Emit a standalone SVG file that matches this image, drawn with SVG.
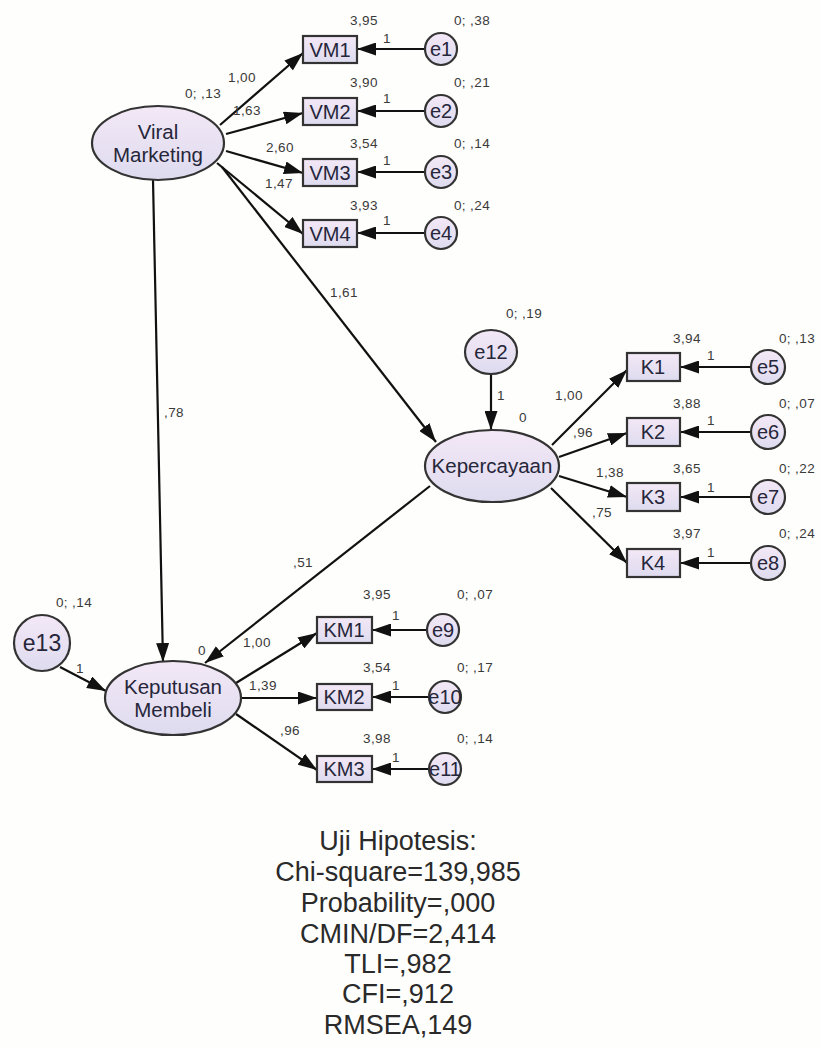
<svg xmlns="http://www.w3.org/2000/svg" width="820" height="1048" viewBox="0 0 820 1048">
<defs>
<linearGradient id="gFill" x1="0" y1="0" x2="0" y2="1">
<stop offset="0" stop-color="#f3e8f6"/>
<stop offset="1" stop-color="#dedbef"/>
</linearGradient>
<marker id="arr" markerUnits="userSpaceOnUse" markerWidth="19" markerHeight="13" refX="19" refY="6.5" orient="auto">
<path d="M0,0 L19,6.5 L0,13 z" fill="#111"/>
</marker>
<style>
.lat{fill:url(#gFill);stroke:#333;stroke-width:2.2}
.obs{fill:url(#gFill);stroke:#333;stroke-width:2.2}
.err{fill:url(#gFill);stroke:#333;stroke-width:2.2}
.nt{font-family:"Liberation Sans",Arial,sans-serif;font-size:20px;fill:#26263a;text-anchor:middle}
.bt{font-family:"Liberation Sans",Arial,sans-serif;font-size:20.5px;fill:#26263a;text-anchor:middle}
.lb{font-family:"Liberation Sans",Arial,sans-serif;font-size:13.5px;fill:#3a3a3a;text-anchor:middle;letter-spacing:0.4px}
.ft{font-family:"Liberation Sans",Arial,sans-serif;font-size:27px;fill:#2a2a2a;text-anchor:middle}
.cn line{stroke:#111;stroke-width:2.2;marker-end:url(#arr)}
</style>
</defs>
<rect x="0" y="0" width="820" height="1048" fill="#fefefc"/>

<g id="connectors" class="cn">
<line x1="220" y1="125" x2="303" y2="53"/>
<line x1="226" y1="134" x2="303" y2="113"/>
<line x1="226" y1="151" x2="303" y2="173"/>
<line x1="217" y1="163" x2="303" y2="234"/>
<line x1="425" y1="49" x2="357" y2="49"/>
<line x1="425" y1="111" x2="357" y2="111"/>
<line x1="425" y1="172" x2="357" y2="172"/>
<line x1="425" y1="233" x2="357" y2="233"/>
<line x1="222" y1="167" x2="436" y2="442"/>
<line x1="153" y1="180" x2="163" y2="662"/>
<line x1="430" y1="486" x2="205" y2="663"/>
<line x1="491" y1="374" x2="491" y2="430"/>
<line x1="60" y1="667" x2="106" y2="691"/>
<line x1="552" y1="445" x2="627" y2="370"/>
<line x1="559" y1="457" x2="627" y2="433"/>
<line x1="559" y1="476" x2="627" y2="497"/>
<line x1="551" y1="488" x2="627" y2="563"/>
<line x1="750" y1="367" x2="680" y2="367"/>
<line x1="750" y1="432" x2="680" y2="432"/>
<line x1="750" y1="497" x2="680" y2="497"/>
<line x1="750" y1="563" x2="680" y2="563"/>
<line x1="236" y1="683" x2="317" y2="633"/>
<line x1="241" y1="698" x2="317" y2="698"/>
<line x1="236" y1="714" x2="317" y2="770"/>
<line x1="428" y1="630" x2="372" y2="630"/>
<line x1="429" y1="697" x2="372" y2="697"/>
<line x1="429" y1="769" x2="372" y2="769"/>
</g>

<g id="ViralMarketing">
<ellipse class="lat" cx="158" cy="143" rx="66" ry="37"/>
<text class="bt" x="158" y="139">Viral</text>
<text class="bt" x="158" y="162">Marketing</text>
</g>
<g id="VM1"><rect class="obs" x="303" y="36" width="54" height="27"/><text class="nt" x="330" y="57">VM1</text></g>
<g id="VM2"><rect class="obs" x="303" y="98" width="54" height="27"/><text class="nt" x="330" y="119">VM2</text></g>
<g id="VM3"><rect class="obs" x="303" y="159" width="54" height="27"/><text class="nt" x="330" y="180">VM3</text></g>
<g id="VM4"><rect class="obs" x="303" y="220" width="54" height="27"/><text class="nt" x="330" y="241">VM4</text></g>
<g id="e1"><circle class="err" cx="441" cy="49" r="16"/><text class="nt" x="441" y="56">e1</text></g>
<g id="e2"><circle class="err" cx="441" cy="111" r="16"/><text class="nt" x="441" y="118">e2</text></g>
<g id="e3"><circle class="err" cx="441" cy="172" r="16"/><text class="nt" x="441" y="179">e3</text></g>
<g id="e4"><circle class="err" cx="441" cy="233" r="16"/><text class="nt" x="441" y="240">e4</text></g>

<g id="Kepercayaan">
<ellipse class="lat" cx="492" cy="466" rx="67" ry="36"/>
<text class="nt" x="492" y="473" style="font-size:20.5px">Kepercayaan</text>
</g>
<g id="e12"><ellipse class="err" cx="491" cy="352" rx="26" ry="22"/><text class="nt" x="491" y="359">e12</text></g>
<g id="K1"><rect class="obs" x="627" y="353" width="53" height="28"/><text class="nt" x="653" y="374">K1</text></g>
<g id="K2"><rect class="obs" x="627" y="418" width="53" height="28"/><text class="nt" x="653" y="439">K2</text></g>
<g id="K3"><rect class="obs" x="627" y="483" width="53" height="28"/><text class="nt" x="653" y="504">K3</text></g>
<g id="K4"><rect class="obs" x="627" y="549" width="53" height="28"/><text class="nt" x="653" y="570">K4</text></g>
<g id="e5"><circle class="err" cx="768" cy="367" r="17"/><text class="nt" x="768" y="374">e5</text></g>
<g id="e6"><circle class="err" cx="768" cy="432" r="17"/><text class="nt" x="768" y="439">e6</text></g>
<g id="e7"><circle class="err" cx="768" cy="497" r="17"/><text class="nt" x="768" y="504">e7</text></g>
<g id="e8"><circle class="err" cx="768" cy="563" r="17"/><text class="nt" x="768" y="570">e8</text></g>

<g id="KeputusanMembeli">
<ellipse class="lat" cx="173" cy="698" rx="68" ry="37"/>
<text class="nt" x="173" y="694" style="font-size:20.5px">Keputusan</text>
<text class="nt" x="173" y="717" style="font-size:20.5px">Membeli</text>
</g>
<g id="e13"><circle class="err" cx="42" cy="643" r="28"/><text class="nt" x="42" y="651" style="font-size:23px">e13</text></g>
<g id="KM1"><rect class="obs" x="317" y="617" width="55" height="26"/><text class="nt" x="344" y="637">KM1</text></g>
<g id="KM2"><rect class="obs" x="317" y="684" width="55" height="26"/><text class="nt" x="344" y="704">KM2</text></g>
<g id="KM3"><rect class="obs" x="317" y="756" width="55" height="26"/><text class="nt" x="344" y="776">KM3</text></g>
<g id="e9"><circle class="err" cx="443" cy="630" r="16"/><text class="nt" x="443" y="637">e9</text></g>
<g id="e10"><circle class="err" cx="445" cy="697" r="16"/><text class="nt" x="445" y="704">e10</text></g>
<g id="e11"><circle class="err" cx="445" cy="769" r="16"/><text class="nt" x="445" y="776">e11</text></g>

<g id="labels">
<text class="lb" x="364" y="25">3,95</text>
<text class="lb" x="472" y="25">0; ,38</text>
<text class="lb" x="387" y="43">1</text>
<text class="lb" x="364" y="87">3,90</text>
<text class="lb" x="472" y="87">0; ,21</text>
<text class="lb" x="387" y="103">1</text>
<text class="lb" x="364" y="148">3,54</text>
<text class="lb" x="472" y="148">0; ,14</text>
<text class="lb" x="387" y="165">1</text>
<text class="lb" x="364" y="210">3,93</text>
<text class="lb" x="472" y="210">0; ,24</text>
<text class="lb" x="387" y="225">1</text>
<text class="lb" x="242" y="82">1,00</text>
<text class="lb" x="203" y="98">0; ,13</text>
<text class="lb" x="247" y="115">1,63</text>
<text class="lb" x="280" y="152">2,60</text>
<text class="lb" x="279" y="188">1,47</text>
<text class="lb" x="344" y="297">1,61</text>
<text class="lb" x="174" y="417">,78</text>
<text class="lb" x="303" y="567">,51</text>

<text class="lb" x="524" y="318">0; ,19</text>
<text class="lb" x="501" y="400">1</text>
<text class="lb" x="523" y="422">0</text>
<text class="lb" x="569" y="400">1,00</text>
<text class="lb" x="583" y="437">,96</text>
<text class="lb" x="610" y="477">1,38</text>
<text class="lb" x="602" y="517">,75</text>
<text class="lb" x="687" y="343">3,94</text>
<text class="lb" x="797" y="343">0; ,13</text>
<text class="lb" x="711" y="360">1</text>
<text class="lb" x="687" y="408">3,88</text>
<text class="lb" x="797" y="408">0; ,07</text>
<text class="lb" x="711" y="425">1</text>
<text class="lb" x="687" y="473">3,65</text>
<text class="lb" x="797" y="473">0; ,22</text>
<text class="lb" x="711" y="492">1</text>
<text class="lb" x="687" y="538">3,97</text>
<text class="lb" x="797" y="538">0; ,24</text>
<text class="lb" x="711" y="557">1</text>

<text class="lb" x="74" y="607">0; ,14</text>
<text class="lb" x="80" y="673">1</text>
<text class="lb" x="202" y="655">0</text>
<text class="lb" x="257" y="647">1,00</text>
<text class="lb" x="263" y="690">1,39</text>
<text class="lb" x="290" y="735">,96</text>
<text class="lb" x="377" y="599">3,95</text>
<text class="lb" x="475" y="599">0; ,07</text>
<text class="lb" x="396" y="620">1</text>
<text class="lb" x="377" y="672">3,54</text>
<text class="lb" x="475" y="672">0; ,17</text>
<text class="lb" x="396" y="690">1</text>
<text class="lb" x="377" y="743">3,98</text>
<text class="lb" x="475" y="743">0; ,14</text>
<text class="lb" x="396" y="762">1</text>
</g>

<g id="fit">
<text class="ft" x="398" y="850">Uji Hipotesis:</text>
<text class="ft" x="398" y="881">Chi-square=139,985</text>
<text class="ft" x="398" y="912">Probability=,000</text>
<text class="ft" x="398" y="943">CMIN/DF=2,414</text>
<text class="ft" x="398" y="973">TLI=,982</text>
<text class="ft" x="398" y="1003">CFI=,912</text>
<text class="ft" x="398" y="1034">RMSEA,149</text>
</g>
</svg>
